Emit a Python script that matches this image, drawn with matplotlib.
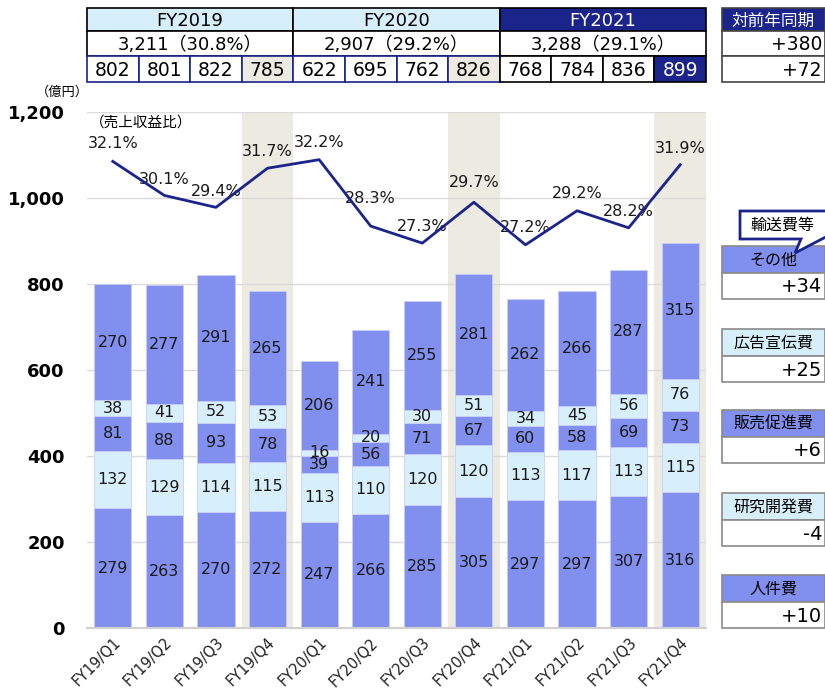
import matplotlib
matplotlib.use('Agg')
from matplotlib import pyplot as plt
from matplotlib.patches import Rectangle, Polygon

plt.rcParams['font.family'] = ['DejaVu Sans', 'Noto Sans CJK JP']

quarters = ['FY19/Q1', 'FY19/Q2', 'FY19/Q3', 'FY19/Q4',
            'FY20/Q1', 'FY20/Q2', 'FY20/Q3', 'FY20/Q4',
            'FY21/Q1', 'FY21/Q2', 'FY21/Q3', 'FY21/Q4']
# stacked from the bottom
personnel = [279, 263, 270, 272, 247, 266, 285, 305, 297, 297, 307, 316]
rnd = [132, 129, 114, 115, 113, 110, 120, 120, 113, 117, 113, 115]
promotion = [81, 88, 93, 78, 39, 56, 71, 67, 60, 58, 69, 73]
advertising = [38, 41, 52, 53, 16, 20, 30, 51, 34, 45, 56, 76]
other = [270, 277, 291, 265, 206, 241, 255, 281, 262, 266, 287, 315]
ratio = [32.1, 30.1, 29.4, 31.7, 32.2, 28.3, 27.3, 29.7, 27.2, 29.2, 28.2, 31.9]

years = ['FY2019', 'FY2020', 'FY2021']
year_totals = ['3,211（30.8%）', '2,907（29.2%）', '3,288（29.1%）']
quarter_totals = [802, 801, 822, 785, 622, 695, 762, 826, 768, 784, 836, 899]
yoy_header = '対前年同期'
yoy_values = ['+380', '+72']
cost_names = ['その他', '広告宣伝費', '販売促進費', '研究開発費', '人件費']
cost_diffs = ['+34', '+25', '+6', '-4', '+10']

navy = '#1A248A'
dark = '#8190EE'
light = '#D7EFFB'
band = '#ECEAE1'

fig = plt.figure(figsize=(8.25, 6.88), dpi=100)
W, H = 825, 688
L, R, B, T = 87, 706, 628, 112
ax = fig.add_axes([L / W, 1 - B / H, (R - L) / W, (B - T) / H])

x = list(range(len(quarters)))
for i in x:
    if i % 4 == 3:
        ax.axvspan(i - 0.5, i + 0.5, color=band, zorder=0, lw=0)

series = [personnel, rnd, promotion, advertising, other]
colors = [dark, light, dark, light, dark]
bottom = [0] * len(x)
for vals, c in zip(series, colors):
    ax.bar(x, vals, bottom=bottom, width=0.72, color=c, edgecolor='#C9D0F6',
           linewidth=0.6, zorder=2)
    for i, v in enumerate(vals):
        ax.text(i, bottom[i] + v / 2, str(v), ha='center', va='center',
                fontsize=11.5, color='#1a1a1a', zorder=3)
    bottom = [b + v for b, v in zip(bottom, vals)]

ax.set_xlim(-0.5, 11.5)
ax.set_ylim(0, 1200)
ax.set_yticks(range(0, 1201, 200))
ax.set_yticklabels(['{:,}'.format(v) for v in range(0, 1201, 200)],
                   fontsize=13, fontweight='bold')
ax.yaxis.grid(True, color='#DADADA', lw=1, zorder=0.5)
ax.set_axisbelow(True)
ax.tick_params(axis='y', length=0, pad=16)
ax.tick_params(axis='x', length=0, pad=5)
ax.set_xticks(x)
ax.set_xticklabels(quarters, rotation=45, ha='right', rotation_mode='anchor',
                   fontsize=10.5, color='#222222')
for s in ['top', 'right', 'left']:
    ax.spines[s].set_visible(False)
ax.spines['bottom'].set_color('#D0D0D0')
ax.spines['bottom'].set_linewidth(1.5)

# ratio line on hidden second scale
ax2 = ax.twinx()
ax2.set_ylim(4.7, 35.0)
ax2.axis('off')
ax2.plot(x, ratio, color=navy, lw=2, zorder=4)
lift = [18, 16, 16, 17, 17, 28, 17, 20, 17, 17, 16, 16]
for i, v in enumerate(ratio):
    ax2.annotate('{:.1f}%'.format(v), (i, v), xytext=(0, lift[i] * 0.72),
                 textcoords='offset points', ha='center', va='center',
                 fontsize=11.5, color='#1a1a1a')

# overlay in pixel coordinates for the tables and boxes
ov = fig.add_axes([0, 0, 1, 1])
ov.set_xlim(0, W)
ov.set_ylim(H, 0)
ov.axis('off')

cw = (R - L) / 12.0
rows = [8, 31, 56, 82]


def cell(x0, y0, w, h, txt, fc='white', ec='black', tc='black', fs=13.5,
         ha='center', lw=1.2, z=1):
    ov.add_patch(Rectangle((x0, y0), w, h, fc=fc, ec=ec, lw=lw, zorder=z))
    tx = x0 + w / 2 if ha == 'center' else x0 + w - 3
    ov.text(tx, y0 + h / 2 + 1, txt, ha=ha, va='center', color=tc, fontsize=fs,
            zorder=z + 1)


for k, yname in enumerate(years):
    x0 = L + k * 4 * cw
    hf, htc = (navy, 'white') if k == 2 else (light, 'black')
    cell(x0, rows[0], 4 * cw, rows[1] - rows[0], yname, fc=hf, tc=htc, fs=13)
    cell(x0, rows[1], 4 * cw, rows[2] - rows[1], year_totals[k], fs=13)
for i, v in enumerate(quarter_totals):
    fc, tc = 'white', 'black'
    if i % 4 == 3 and i < 11:
        fc = band
    if i == 11:
        fc, tc = navy, 'white'
    ec = navy if i < 8 else 'black'
    cell(L + i * cw, rows[2], cw, rows[3] - rows[2], str(v), fc=fc, ec=ec, tc=tc)

rx, rw = 722, 103
cell(rx, rows[0], rw, rows[1] - rows[0], yoy_header, fc=navy, tc='white',
     ec='#444444', fs=12)
cell(rx, rows[1], rw, rows[2] - rows[1], yoy_values[0], ec='#444444', ha='right')
cell(rx, rows[2], rw, rows[3] - rows[2], yoy_values[1], ec='#444444', ha='right')

box_tops = [246, 329, 410, 493, 575]
for k, (name, d) in enumerate(zip(cost_names, cost_diffs)):
    y0 = box_tops[k]
    hf = dark if k % 2 == 0 else light
    cell(rx, y0, rw, 27, name, fc=hf, ec='#8A8A8A', fs=11.5, lw=1.2)
    cell(rx, y0 + 27, rw, 26, d, ec='#8A8A8A', fs=14, ha='right', lw=1.2)

# speech-bubble callout
ov.add_patch(Polygon([(740, 211), (845, 211), (845, 227), (795, 253),
                      (801, 239), (740, 239)],
                     closed=True, fc='white', ec=navy, lw=2, zorder=5,
                     clip_on=True))
ov.text(782, 225, '輸送費等', ha='center', va='center', fontsize=11.5, zorder=6)

ov.text(62, 92, '（億円）', ha='center', va='center', fontsize=9.5)
ov.text(90, 122, '（売上収益比）', ha='left', va='center', fontsize=10.5)

fig.savefig('out.png', dpi=100)
